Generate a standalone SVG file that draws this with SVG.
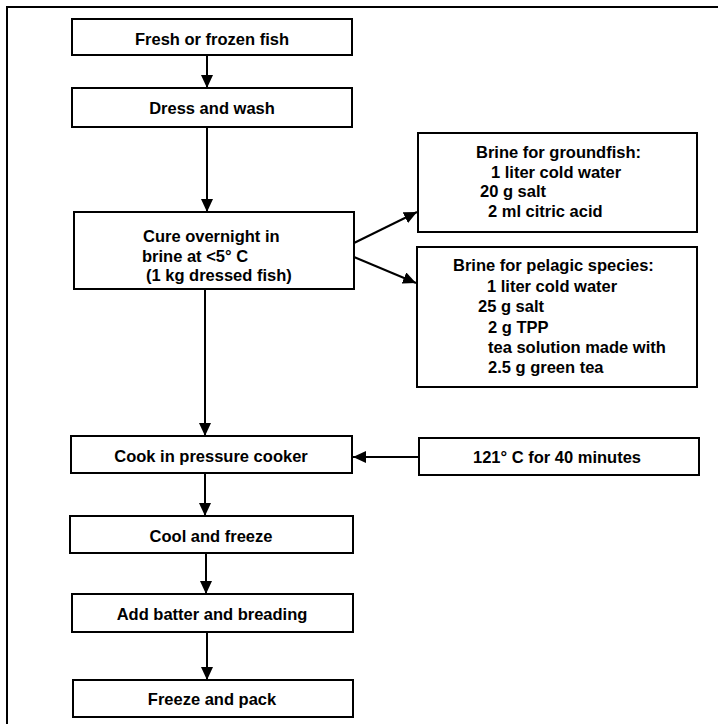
<svg xmlns="http://www.w3.org/2000/svg" width="718" height="724" viewBox="0 0 718 724">
<defs>
<style>
.box{fill:#fff;stroke:#000;stroke-width:2}
.t{font-family:"Liberation Sans",Arial,sans-serif;font-weight:bold;font-size:16.5px;fill:#000}
.c{text-anchor:middle}
.ln{stroke:#000;stroke-width:2;fill:none}
</style>
<marker id="ah" viewBox="0 0 13 12" refX="13" refY="6" markerWidth="13" markerHeight="12" markerUnits="userSpaceOnUse" orient="auto">
<path d="M0,0 L13,6 L0,12 Z" fill="#000"/>
</marker>
</defs>
<rect width="718" height="724" fill="#fff"/>
<g id="frame"><path class="ln" d="M7,724 V7 H718"/></g>
<g id="connectors">
<line class="ln" x1="207" y1="55" x2="207" y2="88" marker-end="url(#ah)"/>
<line class="ln" x1="207" y1="127" x2="207" y2="212" marker-end="url(#ah)"/>
<line class="ln" x1="354" y1="243" x2="417" y2="212" marker-end="url(#ah)"/>
<line class="ln" x1="354" y1="257" x2="416" y2="283" marker-end="url(#ah)"/>
<line class="ln" x1="205" y1="290" x2="205" y2="436" marker-end="url(#ah)"/>
<line class="ln" x1="419" y1="457" x2="353" y2="457" marker-end="url(#ah)"/>
<line class="ln" x1="205" y1="473" x2="205" y2="516" marker-end="url(#ah)"/>
<line class="ln" x1="206" y1="553" x2="206" y2="594" marker-end="url(#ah)"/>
<line class="ln" x1="207" y1="632" x2="207" y2="680" marker-end="url(#ah)"/>
</g>
<g id="n1"><rect class="box" x="72" y="19" width="280" height="36"/><text class="t c" x="212" y="45">Fresh or frozen fish</text></g>
<g id="n2"><rect class="box" x="72" y="88" width="280" height="39"/><text class="t c" x="212" y="114">Dress and wash</text></g>
<g id="n3"><rect class="box" x="74" y="212" width="280" height="77"/>
<text class="t" x="143" y="242">Cure overnight in</text>
<text class="t" x="142" y="262">brine at &lt;5° C</text>
<text class="t" x="146" y="281">(1 kg dressed fish)</text></g>
<g id="n4"><rect class="box" x="418" y="133" width="279" height="99"/>
<text class="t" x="476" y="158">Brine for groundfish:</text>
<text class="t" x="491" y="178">1 liter cold water</text>
<text class="t" x="480" y="197">20 g salt</text>
<text class="t" x="488" y="217">2 ml citric acid</text></g>
<g id="n5"><rect class="box" x="417" y="247" width="280" height="140"/>
<text class="t" x="453" y="271">Brine for pelagic species:</text>
<text class="t" x="487" y="292">1 liter cold water</text>
<text class="t" x="478" y="312">25 g salt</text>
<text class="t" x="488" y="333">2 g TPP</text>
<text class="t" x="488" y="353">tea solution made with</text>
<text class="t" x="488" y="373">2.5 g green tea</text></g>
<g id="n6"><rect class="box" x="71" y="436" width="281" height="37"/><text class="t c" x="211" y="462">Cook in pressure cooker</text></g>
<g id="n7"><rect class="box" x="419" y="438" width="280" height="37"/><text class="t c" x="557" y="463">121° C for 40 minutes</text></g>
<g id="n8"><rect class="box" x="70" y="516" width="283" height="37"/><text class="t c" x="211" y="542">Cool and freeze</text></g>
<g id="n9"><rect class="box" x="72" y="594" width="281" height="38"/><text class="t c" x="212" y="620">Add batter and breading</text></g>
<g id="n10"><rect class="box" x="73" y="680" width="280" height="37"/><text class="t c" x="212" y="705">Freeze and pack</text></g>
</svg>
